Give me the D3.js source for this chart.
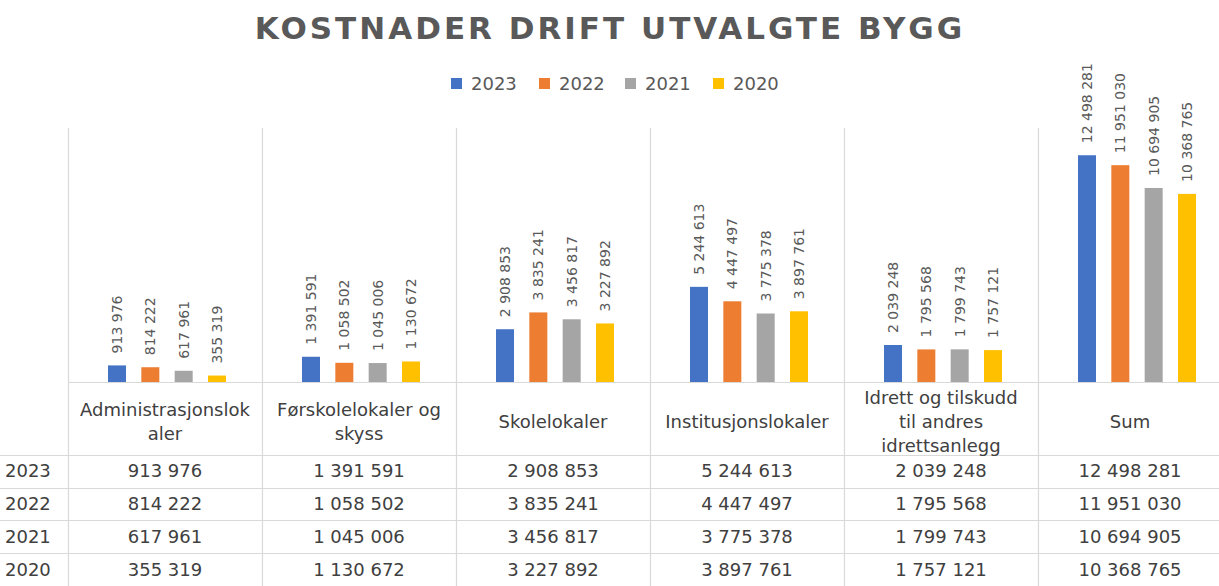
<!DOCTYPE html>
<html>
<head>
<meta charset="utf-8">
<script src="https://cdn.jsdelivr.net/npm/d3@7"></script>
<style>
  body { margin: 0; background: #fff; }
  text { font-family: "DejaVu Sans", sans-serif; }
</style>
</head>
<body>
<svg id="chart" width="1219" height="586"></svg>
<script>
// data
const categories = [
  ["Administrasjonslok", "aler"],
  ["Førskolelokaler og", "skyss"],
  ["Skolelokaler"],
  ["Institusjonslokaler"],
  ["Idrett og tilskudd", "til andres", "idrettsanlegg"],
  ["Sum"]
];
const years = ["2023", "2022", "2021", "2020"];
const v2023 = [913976, 1391591, 2908853, 5244613, 2039248, 12498281];
const v2022 = [814222, 1058502, 3835241, 4447497, 1795568, 11951030];
const v2021 = [617961, 1045006, 3456817, 3775378, 1799743, 10694905];
const v2020 = [355319, 1130672, 3227892, 3897761, 1757121, 10368765];
const series = [v2023, v2022, v2021, v2020];
const colors = ["#4472C4", "#ED7D31", "#A5A5A5", "#FFC000"];

const fmt = d3.formatLocale({decimal: ",", thousands: " ", grouping: [3], currency: ["", ""]}).format(",d");

const svg = d3.select("#chart");
const plotLeft = 68, plotRight = 1232, plotTop = 128, base = 382;
const groupW = 118;
const gridCol = "#d9d9d9";

const x0 = d3.scaleBand().domain(d3.range(categories.length)).range([plotLeft, plotRight]);
const x1 = d3.scaleBand().domain(d3.range(years.length)).range([0, groupW]).paddingInner(0.46);
const y = d3.scaleLinear().domain([0, 14000000]).range([base, plotTop]);
const barX = (i, s) => x0(i) + (x0.bandwidth() - groupW) / 2 + 2 + x1(s);
const colMid = i => x0(i) + x0.bandwidth() / 2 - (i === categories.length - 1 ? 5 : 0);

// title
svg.append("text")
  .attr("x", 610).attr("y", 39)
  .attr("text-anchor", "middle")
  .attr("font-size", 31).attr("font-weight", "bold")
  .attr("letter-spacing", 3)
  .attr("fill", "#595959")
  .text("KOSTNADER DRIFT UTVALGTE BYGG");

// legend
const legX = [451, 539, 625, 713];
const leg = svg.selectAll(".leg").data(years).enter().append("g")
  .attr("transform", (d, i) => "translate(" + legX[i] + ",77)");
leg.append("rect").attr("width", 11).attr("height", 11).attr("y", 1)
  .attr("fill", (d, i) => colors[i]);
leg.append("text").attr("x", 20).attr("y", 13)
  .attr("font-size", 18).attr("fill", "#595959").text(d => d);

// grid / table lines
const lines = svg.append("g").attr("stroke", gridCol).attr("stroke-width", 1.2);
d3.range(categories.length).forEach(i => {
  const xx = Math.round(x0(i)) + 0.5;
  lines.append("line").attr("x1", xx).attr("x2", xx).attr("y1", plotTop).attr("y2", 586);
});
const rowY = [455, 488, 520, 553];
lines.append("line").attr("x1", plotLeft).attr("x2", 1219).attr("y1", base + 0.5).attr("y2", base + 0.5);
rowY.forEach(r => {
  lines.append("line").attr("x1", 0).attr("x2", 1219).attr("y1", r + 0.5).attr("y2", r + 0.5);
});

// bars
series.forEach((vals, s) => {
  const g = svg.append("g");
  g.selectAll("rect").data(vals).enter().append("rect")
    .attr("x", (d, i) => barX(i, s))
    .attr("y", d => y(d))
    .attr("width", x1.bandwidth())
    .attr("height", d => base - y(d))
    .attr("fill", colors[s]);
  g.selectAll("text").data(vals).enter().append("text")
    .attr("transform", (d, i) => {
      const cx = barX(i, s) + x1.bandwidth() / 2 + 5;
      return "translate(" + cx + "," + (y(d) - 12) + ") rotate(-90)";
    })
    .attr("font-size", 14).attr("fill", "#595959")
    .text(d => fmt(d));
});

// category header
categories.forEach((lns, i) => {
  const t = svg.append("text").attr("text-anchor", "middle")
    .attr("font-size", 18).attr("fill", "#404040");
  lns.forEach((l, k) => {
    t.append("tspan").attr("x", colMid(i))
      .attr("y", 428 + (k - (lns.length - 1) / 2) * 24)
      .text(l);
  });
});

// data table
const rowMid = [477, 510, 543, 576];
years.forEach((yr, r) => {
  svg.append("text").attr("x", 5).attr("y", rowMid[r])
    .attr("font-size", 18).attr("fill", "#404040").text(yr);
  series[r].forEach((v, i) => {
    svg.append("text").attr("x", colMid(i)).attr("y", rowMid[r])
      .attr("text-anchor", "middle")
      .attr("font-size", 18).attr("fill", "#404040")
      .text(fmt(v));
  });
});
</script>
</body>
</html>
